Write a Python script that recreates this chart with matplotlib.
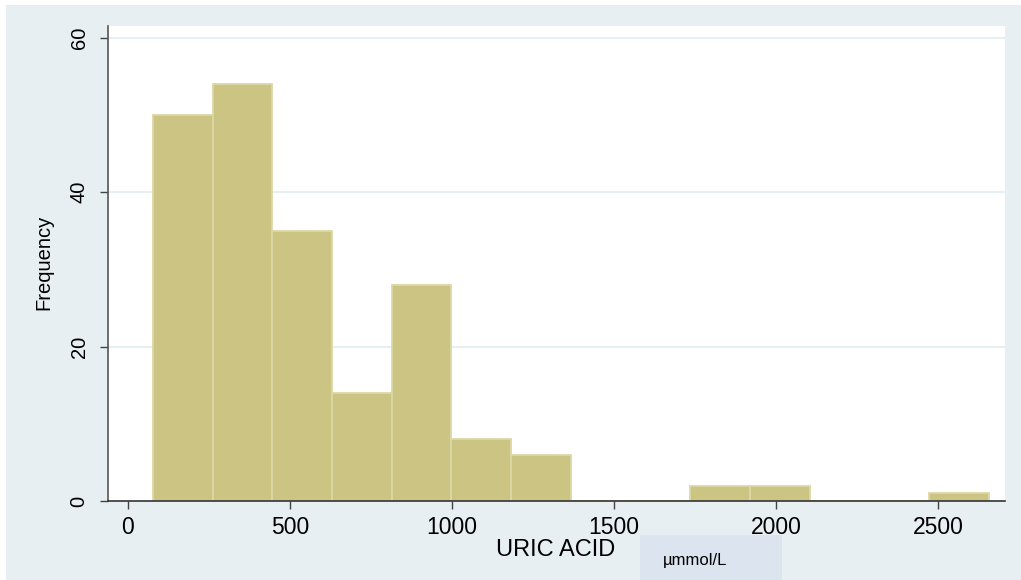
import matplotlib
matplotlib.use("Agg")
import matplotlib.pyplot as plt
from matplotlib.patches import Rectangle

plt.rcParams['font.family'] = ['Liberation Sans', 'DejaVu Sans']

# Histogram of uric acid (µmmol/L): 14 equal-width bins
bin_start = 77.0
bin_width = 184.3
counts = [50, 54, 35, 14, 28, 8, 6, 0, 0, 2, 2, 0, 0, 1]
x_ticks = [0, 500, 1000, 1500, 2000, 2500]
y_ticks = [0, 20, 40, 60]

W, H = 1021, 580
fig = plt.figure(figsize=(W / 100, H / 100), dpi=100)
fig.patch.set_facecolor('white')

# Stata-style graph region background
bg = Rectangle((6 / W, 0), 1 - 6 / W, 1 - 5 / H, transform=fig.transFigure,
               facecolor='#e8eff2', edgecolor='none', zorder=0)
fig.patches.append(bg)

# Shaded box behind the unit note
unit_box = Rectangle((640 / W, 0), (782 - 640) / W, (H - 535) / H,
                     transform=fig.transFigure, facecolor='#dbe4ef',
                     edgecolor='none', zorder=0.5)
fig.patches.append(unit_box)

ax = fig.add_axes([108 / W, (H - 501) / H, (1005 - 108) / W, (501 - 26) / H])
ax.set_facecolor('white')
ax.set_zorder(1)

lefts = [bin_start + i * bin_width for i in range(len(counts))]
ax.bar(lefts, counts, width=bin_width, align='edge', color='#cbc483',
       edgecolor='#dcd8a6', linewidth=1.3, zorder=2)

ax.set_xlim(-61.7, 2707)
ax.set_ylim(0, 61.55)

for y in y_ticks[1:]:
    ax.axhline(y, color='#e6eff2', linewidth=1.5, zorder=1)

ax.set_xticks(x_ticks)
ax.set_yticks(y_ticks)
ax.set_xticklabels([str(v) for v in x_ticks], fontsize=16.5)
ax.set_yticklabels([str(v) for v in y_ticks], fontsize=14.5, rotation=90,
                   va='center')
ax.tick_params(axis='x', direction='out', length=6, width=1,
               color='#444444', pad=5)
ax.tick_params(axis='y', direction='out', length=6, width=1,
               color='#444444', pad=8)

for side in ('top', 'right'):
    ax.spines[side].set_visible(False)
ax.spines['left'].set_color('#555555')
ax.spines['bottom'].set_color('#333333')
ax.spines['left'].set_linewidth(1.2)
ax.spines['bottom'].set_linewidth(1.2)

fig.text(44 / W, 1 - 262 / H, 'Frequency', rotation=90, fontsize=14.5,
         ha='center', va='center')
fig.text(556 / W, 1 - 550 / H, 'URIC ACID', fontsize=17,
         ha='center', va='center')
fig.text(695 / W, 1 - 560 / H, 'µmmol/L', fontsize=12,
         ha='center', va='center')

fig.savefig('out.png', dpi=100)
